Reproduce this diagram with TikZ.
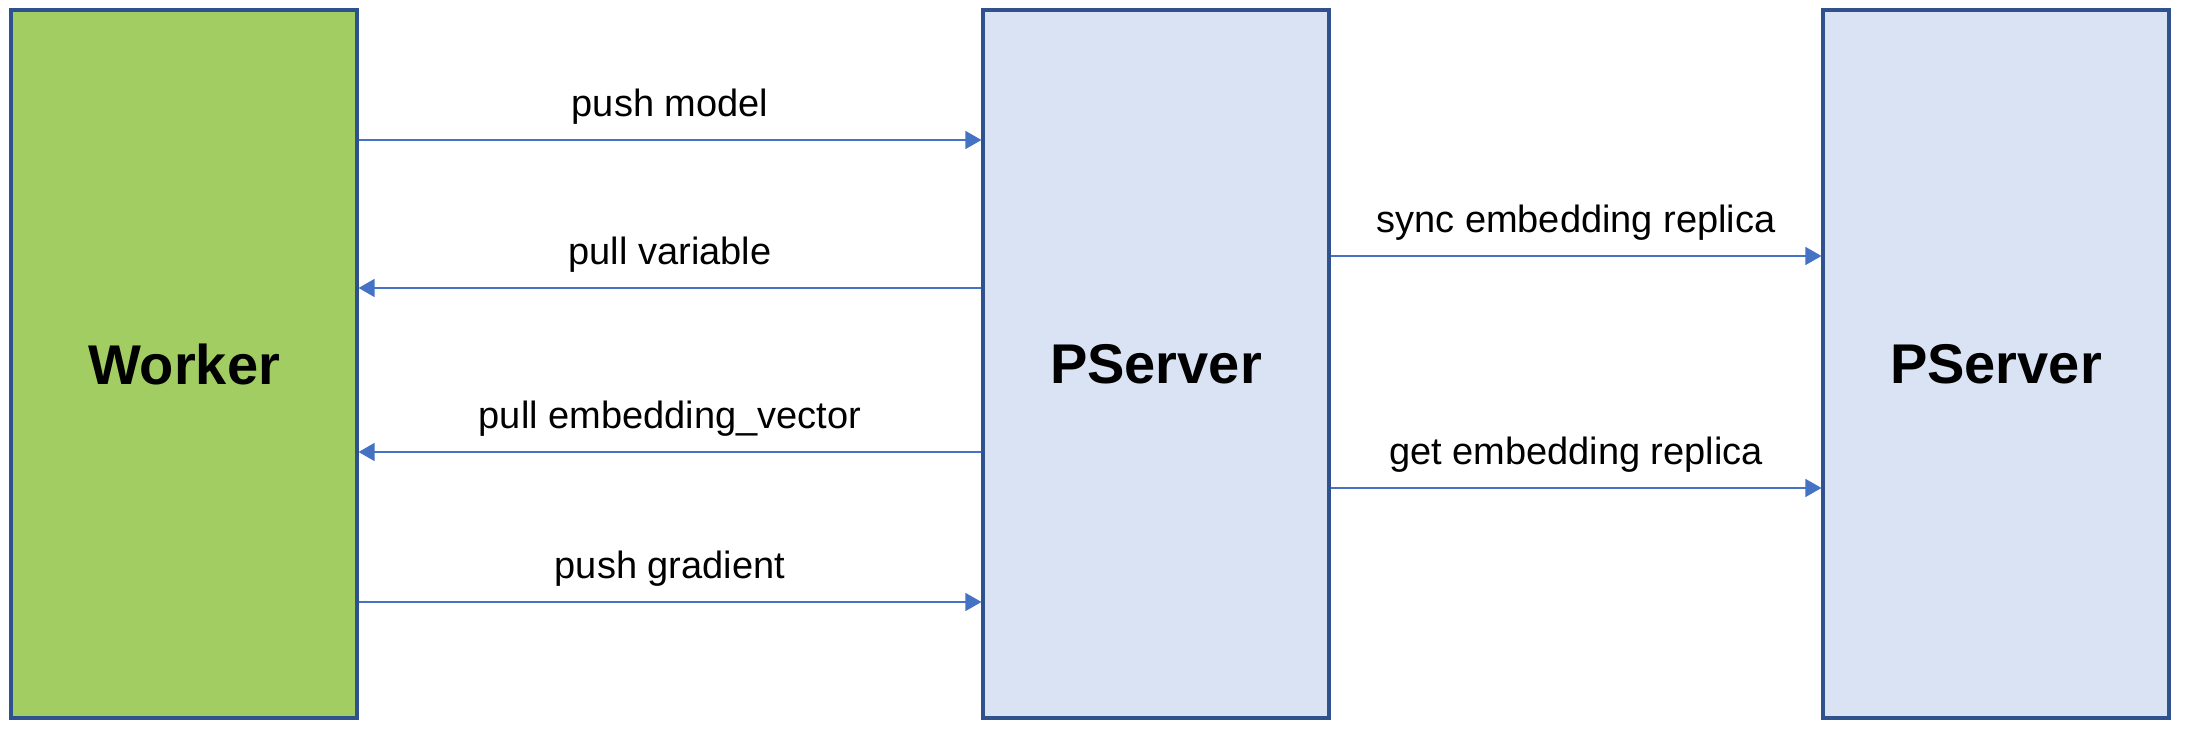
\documentclass[tikz,border=0pt]{standalone}
\usepackage{fontspec}
\setmainfont{Liberation Sans}
\usetikzlibrary{arrows.meta}

\definecolor{wfill}{HTML}{A2CD63}
\definecolor{pfill}{HTML}{DAE3F3}
\definecolor{edge}{HTML}{2F528F}
\definecolor{msgc}{HTML}{4472C4}

\begin{document}
\begin{tikzpicture}[x=1pt, y=1pt,
      box/.style = {shape=rectangle, draw=edge, line width=1.6pt,
        minimum width=173pt, minimum height=354pt,
        font=\fontsize{28}{31}\selectfont\bfseries},
      msg/.style = {draw=msgc, line width=0.8pt,
        -{Triangle[length=8pt, width=9pt]}},
      lbl/.style = {midway, above=4pt, font=\fontsize{19}{22}\selectfont}]
    \useasboundingbox (0,0) rectangle (1093,366);
    % the three boxes
    \node[box, fill=wfill] (worker) at (92,184) {Worker};
    \node[box, fill=pfill] (ps1) at (578,184) {PServer};
    \node[box, fill=pfill] (ps2) at (998,184) {PServer};
    % worker <-> pserver
    \draw[msg] ([yshift=112pt]worker.east) -- ([yshift=112pt]ps1.west)
      node[lbl] {push model};
    \draw[msg] ([yshift=38pt]ps1.west) -- ([yshift=38pt]worker.east)
      node[lbl] {pull variable};
    \draw[msg] ([yshift=-44pt]ps1.west) -- ([yshift=-44pt]worker.east)
      node[lbl] {pull embedding\_vector};
    \draw[msg] ([yshift=-119pt]worker.east) -- ([yshift=-119pt]ps1.west)
      node[lbl] {push gradient};
    % pserver -> pserver
    \draw[msg] ([yshift=54pt]ps1.east) -- ([yshift=54pt]ps2.west)
      node[lbl] {sync embedding replica};
    \draw[msg] ([yshift=-62pt]ps1.east) -- ([yshift=-62pt]ps2.west)
      node[lbl] {get embedding replica};
  \end{tikzpicture}
\end{document}
